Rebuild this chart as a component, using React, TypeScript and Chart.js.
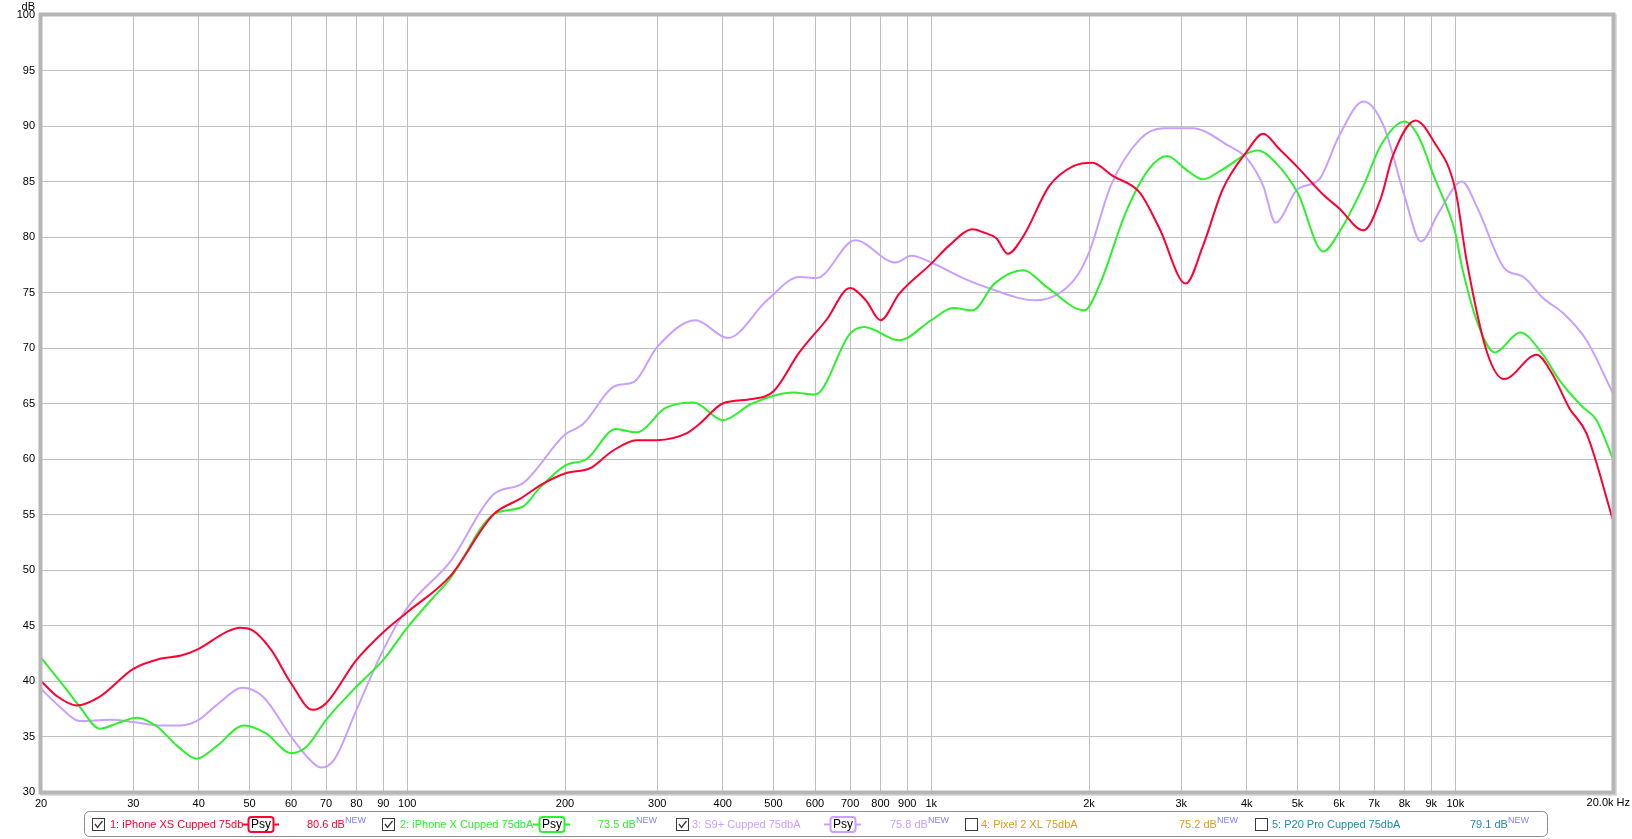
import React, { useEffect, useRef } from 'react';
import { Chart, registerables } from 'chart.js';

Chart.register(...registerables);

// ---- axis ticks ----
const xTickValues = [20, 30, 40, 50, 60, 70, 80, 90, 100, 200, 300, 400, 500, 600, 700, 800, 900, 1000, 2000, 3000, 4000, 5000, 6000, 7000, 8000, 9000, 10000, 20000];
const xTickLabels = ['20', '30', '40', '50', '60', '70', '80', '90', '100', '200', '300', '400', '500', '600', '700', '800', '900', '1k', '2k', '3k', '4k', '5k', '6k', '7k', '8k', '9k', '10k', ''];
const lastXTickLabel = '20.0k Hz';
const yUnitLabel = 'dB';
const yMin = 30;
const yMax = 100;
const yStep = 5;

// ---- series 1: iPhone XS ----
const xsFreq = [20, 21.5, 23.4, 25.9, 30, 33.7, 37, 40, 45.1, 47.9, 50.5, 55, 60, 66, 70, 80, 90, 100, 121, 146, 164, 182, 200, 224, 246, 274, 300, 341, 360, 400, 455, 500, 560, 630, 700, 750, 800, 869, 1000, 1080, 1200, 1260, 1330, 1400, 1500, 1680, 1870, 2030, 2220, 2500, 2730, 3060, 3300, 3600, 4000, 4300, 4600, 5000, 5600, 6000, 6680, 7200, 7600, 8400, 9100, 10000, 10500, 11500, 12400, 14300, 15300, 16500, 17800, 20000];
const xsDb = [40, 38.6, 37.8, 38.6, 41.1, 42, 42.3, 42.9, 44.4, 44.8, 44.6, 42.8, 39.8, 37.4, 38, 41.9, 44.4, 46.2, 49.5, 55, 56.4, 57.8, 58.7, 59.2, 60.7, 61.7, 61.7, 62.3, 63.1, 65, 65.4, 66.1, 69.6, 72.5, 75.4, 74.3, 72.5, 74.9, 77.6, 79.2, 80.7, 80.4, 79.9, 78.5, 80.1, 84.6, 86.4, 86.7, 85.5, 84, 80.7, 75.8, 79.2, 84.3, 87.7, 89.3, 88, 86.3, 83.8, 82.6, 80.6, 83.4, 87.3, 90.5, 88.6, 84.3, 78, 69.6, 67.2, 69.4, 67.7, 64.6, 62.3, 54.5];

// ---- series 2: iPhone X ----
const xFreq = [20, 22.4, 23.7, 25.9, 28, 30.5, 33.3, 36.3, 39.6, 43.2, 48.8, 53.7, 60, 64.3, 70, 80, 90, 100, 111, 121, 146, 166, 179, 200, 220, 250, 274, 311, 352, 400, 455, 545, 600, 700, 745, 868, 1000, 1100, 1200, 1320, 1500, 1660, 1960, 2100, 2350, 2600, 2820, 3060, 3300, 3600, 4200, 4540, 5000, 5600, 6000, 6680, 7200, 8000, 8500, 9100, 10000, 10300, 11100, 11900, 13300, 14700, 15800, 17400, 18600, 20000];
const xDb = [42.1, 39.2, 37.7, 35.7, 36.2, 36.7, 35.9, 34.2, 33, 34.1, 36, 35.3, 33.5, 34.1, 36.5, 39.5, 41.9, 44.8, 47.3, 49.3, 55, 55.7, 57.4, 59.4, 60, 62.7, 62.4, 64.6, 65.1, 63.5, 65, 66, 65.8, 71.3, 71.9, 70.7, 72.5, 73.6, 73.4, 75.8, 77, 75.5, 73.4, 75.8, 82.2, 86.1, 87.3, 86.1, 85.2, 86.1, 87.8, 86.7, 84, 78.7, 80.4, 84.6, 88.2, 90.4, 89.1, 85.5, 80.4, 77.3, 71.9, 69.6, 71.4, 69.4, 67.1, 64.8, 63.5, 60];

// ---- series 3: S9+ ----
const s9Freq = [20, 21.7, 23.7, 27.1, 30, 33.7, 37, 40, 43.7, 48.4, 53, 60, 64.3, 68.4, 72.5, 80, 90, 100, 121, 146, 166, 200, 216, 250, 270, 300, 355, 409, 486, 560, 604, 716, 855, 917, 1000, 1150, 1270, 1580, 1870, 2000, 2200, 2500, 2770, 3150, 3700, 4000, 4300, 4540, 5000, 5500, 6000, 6680, 7300, 8000, 8600, 9300, 10300, 11000, 12400, 13500, 14700, 16100, 17800, 20000];
const s9Db = [39.3, 37.7, 36.4, 36.5, 36.3, 36, 36, 36.5, 38, 39.4, 38.6, 35, 33.2, 32.2, 32.9, 37.4, 42.8, 46.6, 50.8, 56.8, 57.8, 62.2, 63.1, 66.6, 66.9, 70.1, 72.5, 70.9, 74.3, 76.4, 76.3, 79.7, 77.7, 78.3, 77.7, 76.3, 75.5, 74.3, 76.1, 78.6, 84.6, 88.8, 89.8, 89.8, 88.2, 87.1, 84.6, 81.3, 84.3, 85.2, 89.1, 92.2, 90, 83.7, 79.6, 82.2, 85, 82.7, 77.2, 76.4, 74.5, 73.1, 70.7, 65.9];

// ---- legend ----
const legendLabels = ['1: iPhone XS Cupped 75db', '2: iPhone X Cupped 75dbA', '3: S9+ Cupped 75dbA', '4: Pixel 2 XL 75dbA', '5: P20 Pro Cupped 75dbA'];
const legendValues = ['80.6 dB', '73.5 dB', '75.8 dB', '75.2 dB', '79.1 dB'];
const legendChecked = [true, true, true, false, false];
const legendHasPsy = [true, true, true, false, false];
const legendColors = ['#ff0033', '#2ef02e', '#c9a0ff', '#e09a1c', '#1b8fa0'];
const psyLabel = 'Psy';
const newLabel = 'NEW';

const FONT = "'Liberation Sans', Arial, sans-serif";

function toPoints(freq: number[], db: number[]) {
  return freq.map((f, i) => ({ x: f, y: db[i] }));
}

const framePlugin = {
  id: 'framePlugin',
  afterDatasetsDraw(chart: any) {
    const { ctx, chartArea } = chart;
    const { left, top, right, bottom } = chartArea;
    ctx.save();
    ctx.strokeStyle = '#dedede';
    ctx.lineWidth = 2;
    ctx.beginPath();
    ctx.moveTo(right + 3, top - 1);
    ctx.lineTo(right + 3, bottom + 3);
    ctx.lineTo(left - 1, bottom + 3);
    ctx.stroke();
    ctx.strokeStyle = '#b6b6b6';
    ctx.lineWidth = 4;
    ctx.strokeRect(left - 0.5, top - 0.5, right - left + 1, bottom - top + 1);
    ctx.restore();
  },
  afterDraw(chart: any) {
    const { ctx, chartArea } = chart;
    ctx.save();
    ctx.fillStyle = '#000';
    ctx.font = `11px ${FONT}`;
    ctx.textAlign = 'right';
    ctx.textBaseline = 'alphabetic';
    ctx.fillText(yUnitLabel, chartArea.left - 6, 10);
    ctx.textBaseline = 'top';
    ctx.fillText(lastXTickLabel, chart.width - 2, chartArea.bottom + 5);

    // legend frame
    const lx = 84.5, ly = 811.5, lw = 1463, lh = 25;
    ctx.beginPath();
    (ctx as any).roundRect(lx, ly, lw, lh, 5);
    ctx.fillStyle = '#ffffff';
    ctx.fill();
    ctx.strokeStyle = '#8c8c8c';
    ctx.lineWidth = 1;
    ctx.stroke();

    const cbX = [92, 382, 676, 965, 1255];
    const txtX = [110, 400, 692, 981, 1272];
    const psyX = [248, 539, 830, 0, 0];
    const valX = [307, 598, 890, 1179, 1470];
    const cy = 824.5;
    for (let i = 0; i < legendLabels.length; i++) {
      const col = legendColors[i];
      // checkbox
      ctx.strokeStyle = '#3a3a3a';
      ctx.lineWidth = 1;
      ctx.fillStyle = '#fff';
      ctx.fillRect(cbX[i] + 0.5, 818.5, 12, 12);
      ctx.strokeRect(cbX[i] + 0.5, 818.5, 12, 12);
      if (legendChecked[i]) {
        ctx.beginPath();
        ctx.lineWidth = 1.3;
        ctx.moveTo(cbX[i] + 3, 824);
        ctx.lineTo(cbX[i] + 5.5, 827.5);
        ctx.lineTo(cbX[i] + 10.5, 821);
        ctx.stroke();
      }
      // label
      ctx.font = `11px ${FONT}`;
      ctx.textAlign = 'left';
      ctx.textBaseline = 'middle';
      ctx.fillStyle = col;
      ctx.fillText(legendLabels[i], txtX[i], cy + 0.5);
      // psy box
      if (legendHasPsy[i]) {
        const px = psyX[i];
        ctx.strokeStyle = col;
        ctx.lineWidth = 2;
        ctx.beginPath();
        ctx.moveTo(px - 6, cy);
        ctx.lineTo(px, cy);
        ctx.moveTo(px + 25, cy);
        ctx.lineTo(px + 31, cy);
        ctx.stroke();
        ctx.beginPath();
        (ctx as any).roundRect(px + 0.5, 817, 25, 15, 3);
        ctx.fillStyle = '#fff';
        ctx.fill();
        ctx.stroke();
        ctx.fillStyle = '#000';
        ctx.font = `12px ${FONT}`;
        ctx.textAlign = 'center';
        ctx.fillText(psyLabel, px + 13, cy + 0.5);
      }
      // value
      ctx.font = `11px ${FONT}`;
      ctx.textAlign = 'left';
      ctx.fillStyle = col;
      ctx.fillText(legendValues[i], valX[i], cy + 0.5);
      const w = ctx.measureText(legendValues[i]).width;
      ctx.font = `9px ${FONT}`;
      ctx.fillStyle = '#8080ff';
      ctx.fillText(newLabel, valX[i] + w, cy - 3.5);
    }
    ctx.restore();
  },
};

export default function App() {
  const canvasRef = useRef<HTMLCanvasElement | null>(null);

  useEffect(() => {
    const canvas = canvasRef.current;
    if (!canvas) return;
    const datasets = [
      { label: legendLabels[0], data: toPoints(xsFreq, xsDb), borderColor: legendColors[0] },
      { label: legendLabels[1], data: toPoints(xFreq, xDb), borderColor: legendColors[1] },
      { label: legendLabels[2], data: toPoints(s9Freq, s9Db), borderColor: legendColors[2] },
    ].map((d) => ({
      ...d,
      borderWidth: 2,
      pointRadius: 0,
      fill: false,
      cubicInterpolationMode: 'monotone' as const,
    }));

    const chart = new Chart(canvas, {
      type: 'line',
      data: { datasets },
      options: {
        animation: false,
        responsive: false,
        devicePixelRatio: 1,
        layout: { padding: { top: 15, right: 19, bottom: 0, left: 0 } },
        plugins: { legend: { display: false }, tooltip: { enabled: false } },
        scales: {
          x: {
            type: 'logarithmic',
            min: 20,
            max: 20000,
            afterBuildTicks: (scale: any) => {
              scale.ticks = xTickValues.map((v) => ({ value: v }));
            },
            afterFit: (scale: any) => {
              scale.height = 47;
              scale.paddingLeft = 0;
              scale.paddingRight = 0;
            },
            ticks: {
              autoSkip: false,
              maxRotation: 0,
              minRotation: 0,
              padding: 5,
              color: '#000',
              font: { family: FONT, size: 11 },
              callback: (value: any) => {
                const idx = xTickValues.indexOf(Number(value));
                return idx >= 0 ? xTickLabels[idx] : '';
              },
            },
            grid: { color: '#c0c0c0', lineWidth: 1, drawTicks: false },
            border: { display: false },
          },
          y: {
            type: 'linear',
            min: yMin,
            max: yMax,
            afterFit: (scale: any) => {
              scale.width = 41;
              scale.paddingTop = 0;
              scale.paddingBottom = 0;
            },
            ticks: {
              stepSize: yStep,
              padding: 6,
              color: '#000',
              font: { family: FONT, size: 11 },
            },
            grid: { color: '#c0c0c0', lineWidth: 1, drawTicks: false },
            border: { display: false },
          },
        },
      },
      plugins: [framePlugin],
    });
    return () => chart.destroy();
  }, []);

  return (
    <div style={{ position: 'fixed', left: 0, top: 0, width: 1632, height: 839, background: '#fff' }}>
      <canvas ref={canvasRef} width={1632} height={839} style={{ width: 1632, height: 839, display: 'block' }} />
    </div>
  );
}
